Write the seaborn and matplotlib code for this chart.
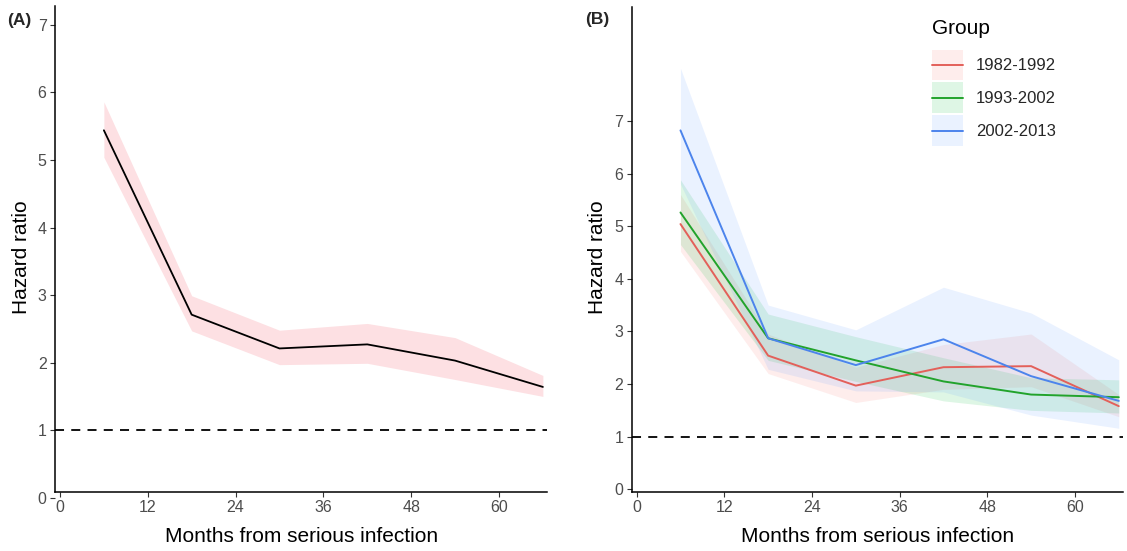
import numpy as np
import pandas as pd
import matplotlib
matplotlib.use("Agg")
import matplotlib.pyplot as plt
import seaborn as sns
from matplotlib.patches import Patch
from matplotlib.lines import Line2D
from matplotlib.legend_handler import HandlerLine2D

# ---------------- data ----------------
months = [6, 18, 30, 42, 54, 66]

# Panel A (all periods)
hr_all = [5.44, 2.71, 2.21, 2.27, 2.03, 1.64]
lo_all = [5.04, 2.47, 1.97, 1.99, 1.75, 1.50]
hi_all = [5.86, 2.99, 2.48, 2.58, 2.37, 1.81]

# Panel B (by calendar period)
groups = ["1982-1992", "1993-2002", "2002-2013"]
hr_g1 = [5.04, 2.54, 1.97, 2.32, 2.34, 1.58]
lo_g1 = [4.52, 2.20, 1.65, 1.90, 1.95, 1.38]
hi_g1 = [5.60, 2.95, 2.32, 2.75, 2.95, 1.80]

hr_g2 = [5.26, 2.87, 2.45, 2.05, 1.80, 1.75]
lo_g2 = [4.65, 2.45, 2.05, 1.68, 1.50, 1.45]
hi_g2 = [5.88, 3.33, 2.90, 2.50, 2.12, 2.08]

hr_g3 = [6.82, 2.87, 2.36, 2.85, 2.15, 1.68]
lo_g3 = [5.80, 2.28, 1.87, 1.85, 1.41, 1.16]
hi_g3 = [8.00, 3.50, 3.03, 3.84, 3.35, 2.46]

line_colors = ["#E3605A", "#22A32C", "#4C84EC"]
fill_colors = ["#F8766D", "#00BA38", "#619CFF"]

# ---------------- style ----------------
sns.set_theme(style="ticks")
plt.rcParams["font.family"] = ["Liberation Sans", "DejaVu Sans"]

fig = plt.figure(figsize=(11.27, 5.51), dpi=100)
axA = fig.add_axes([0.0488, 0.0906, 0.4368, 0.8985])
axB = fig.add_axes([0.5605, 0.1076, 0.4361, 0.8802])

# ---------------- panel A ----------------
axA.fill_between(months, lo_all, hi_all, color="#FDE0E3", lw=0, zorder=1)
sns.lineplot(x=months, y=hr_all, color="black", lw=1.3, ax=axA, zorder=3)
axA.axhline(1, color="black", lw=1.3, ls=(0, (5, 4)), zorder=2)
axA.set_xlim(-0.68, 66.6)
axA.set_ylim(-0.05, 7.28)
axA.spines["bottom"].set_position(("data", 0.089))
axA.spines["left"].set_bounds(0.089, 7.28)

# ---------------- panel B ----------------
df = pd.DataFrame({
    "month": months * 3,
    "hr": hr_g1 + hr_g2 + hr_g3,
    "lo": lo_g1 + lo_g2 + lo_g3,
    "hi": hi_g1 + hi_g2 + hi_g3,
    "Group": [g for g in groups for _ in months],
})
for g, fc in zip(groups, fill_colors):
    sub = df[df["Group"] == g]
    axB.fill_between(sub["month"], sub["lo"], sub["hi"], color=fc, alpha=0.13, lw=0, zorder=1)
axB.axhline(1, color="black", lw=1.3, ls=(0, (5, 4)), zorder=2)
sns.lineplot(data=df, x="month", y="hr", hue="Group", palette=line_colors,
             lw=1.4, ax=axB, legend=False, zorder=3)
axB.set_xlim(-0.68, 66.6)
axB.set_ylim(-0.046, 9.17)

# ---------------- axes cosmetics ----------------
for ax in (axA, axB):
    ax.set_xticks([0, 12, 24, 36, 48, 60])
    ax.set_yticks(range(0, 8))
    for s in ("top", "right"):
        ax.spines[s].set_visible(False)
    for s in ("left", "bottom"):
        ax.spines[s].set_linewidth(1.1)
        ax.spines[s].set_color("black")
    ax.tick_params(length=3.6, width=0.8, color="#333333", labelcolor="#4D4D4D",
                   labelsize=11.5, pad=2.5)
    ax.set_xlabel("Months from serious infection", fontsize=15, color="black")
    ax.set_ylabel("Hazard ratio", fontsize=15, color="black")

axA.xaxis.set_label_coords(0.5, -0.052)
axB.xaxis.set_label_coords(0.5, -0.073)
axA.yaxis.set_label_coords(-0.048, 0.493)
axB.yaxis.set_label_coords(-0.051, 0.484)

fig.text(19.5 / 1127, 1 - 20 / 551, "(A)", fontweight="bold", fontsize=12.5,
         ha="center", va="center")
fig.text(597 / 1127, 1 - 19.5 / 551, "(B)", fontweight="bold", fontsize=12.5,
         ha="center", va="center")


class CenteredLine(HandlerLine2D):
    def create_artists(self, legend, orig_handle, xdescent, ydescent,
                       width, height, fontsize, trans):
        arts = super().create_artists(legend, orig_handle, xdescent, ydescent,
                                      width, height, fontsize, trans)
        for a in arts:
            n = len(a.get_xdata())
            a.set_ydata([height / 2 - ydescent] * n)
        return arts


# legend: title as separate text, keys below
fig.text(932 / 1127, 1 - 28 / 551, "Group", fontsize=15, ha="left", va="center",
         color="black")
handles = [(Patch(facecolor=fc, alpha=0.13, edgecolor="none"),
            Line2D([], [], color=lc, lw=1.4))
           for fc, lc in zip(fill_colors, line_colors)]
fig.legend(handles, groups, loc="upper left",
           bbox_to_anchor=(932 / 1127, 1 - 49.5 / 551), frameon=False,
           fontsize=12, handlelength=1.86, handleheight=2.48,
           handletextpad=0.78, labelspacing=0.12, borderpad=0, borderaxespad=0,
           handler_map={Line2D: CenteredLine()})

fig.savefig("out.png", dpi=100)
